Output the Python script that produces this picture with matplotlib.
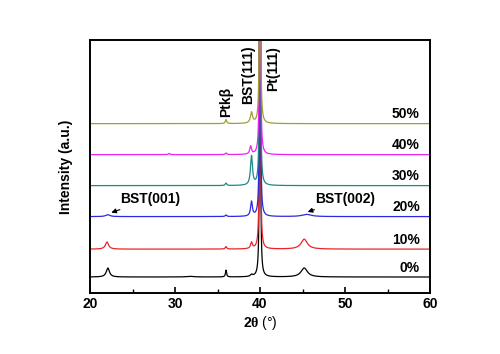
import matplotlib.pyplot as plt
import numpy as np

plt.rcParams['font.family'] = ['Liberation Sans', 'DejaVu Sans']
plt.rcParams['font.weight'] = 'bold'
plt.rcParams['mathtext.fontset'] = 'custom'
plt.rcParams['mathtext.rm'] = 'Liberation Serif'
plt.rcParams['mathtext.bf'] = 'Liberation Sans:bold'

# sample labels, colours and vertical offsets
samples = ['0%', '10%', '20%', '30%', '40%', '50%']
colors = ['black', '#e8262a', '#2a2ae0', '#1a8a86', '#ee22ee', '#a0a030']
offsets = [0, 0.9, 1.95, 2.95, 3.95, 4.95]

# peaks: position (2theta), height (a.u.), FWHM (deg)
pk_pos = {
    '0%':  [22.1, 31.8, 36.0, 39.0, 40.0, 45.2],
    '10%': [22.0, 36.0, 39.0, 40.0, 45.2],
    '20%': [22.1, 36.0, 39.0, 40.0, 45.5],
    '30%': [36.0, 39.0, 40.0],
    '40%': [29.3, 36.0, 38.9, 40.0],
    '50%': [36.0, 39.0, 40.0],
}
pk_h = {
    '0%':  [0.29, 0.02, 0.22, 0.06, 30.0, 0.29],
    '10%': [0.23, 0.08, 0.2, 30.0, 0.32],
    '20%': [0.06, 0.05, 0.47, 30.0, 0.07],
    '30%': [0.08, 0.94, 30.0],
    '40%': [0.04, 0.05, 0.26, 30.0],
    '50%': [0.13, 0.35, 30.0],
}
pk_w = {
    '0%':  [0.45, 1.0, 0.15, 0.3, 0.07, 0.9],
    '10%': [0.45, 0.2, 0.25, 0.07, 0.9],
    '20%': [0.6, 0.2, 0.25, 0.07, 1.3],
    '30%': [0.2, 0.28, 0.07],
    '40%': [0.2, 0.2, 0.25, 0.07],
    '50%': [0.2, 0.3, 0.07],
}

two_theta = np.linspace(20, 60, 8001)

fig = plt.figure(figsize=(5, 3.54), dpi=100)
ax = fig.add_axes([0.18, 0.172, 0.68, 0.715])

for name, col, off in zip(samples, colors, offsets):
    y = np.zeros_like(two_theta)
    for p, h, w in zip(pk_pos[name], pk_h[name], pk_w[name]):
        y += h * (w / 2) ** 2 / ((two_theta - p) ** 2 + (w / 2) ** 2)
    ax.plot(two_theta, y + off, color=col, lw=0.9)
    ax.text(58.8, off + 0.3, name, ha='right', va='center', fontsize=10, fontweight='bold')

# peak labels
ax.text(36.0, 5.15, 'Ptkβ', rotation=90, ha='center', va='bottom', fontsize=10, fontweight='bold')
ax.text(38.6, 5.6, 'BST(111)', rotation=90, ha='center', va='bottom', fontsize=10, fontweight='bold')
ax.text(41.5, 6.0, 'Pt(111)', rotation=90, ha='center', va='bottom', fontsize=10, fontweight='bold')

ax.annotate('BST(001)', xy=(22.2, 2.05), xytext=(23.6, 2.52), ha='left', va='center',
            fontsize=10, fontweight='bold',
            arrowprops=dict(arrowstyle='-|>', color='black', lw=0.8, mutation_scale=7))
ax.annotate('BST(002)', xy=(45.3, 2.07), xytext=(46.5, 2.52), ha='left', va='center',
            fontsize=10, fontweight='bold',
            arrowprops=dict(arrowstyle='-|>', color='black', lw=0.8, mutation_scale=7))

ax.set_xlim(20, 60)
ax.set_ylim(-0.52, 7.65)
ax.set_xticks([20, 30, 40, 50, 60])
ax.set_xticks([25, 35, 45, 55], minor=True)
ax.set_yticks([])
ax.tick_params(axis='x', direction='in', length=4, width=1.2, labelsize=10, pad=3)
ax.tick_params(axis='x', which='minor', direction='in', length=3, width=1.0)
for lab in ax.get_xticklabels():
    lab.set_fontweight('bold')
for s in ax.spines.values():
    s.set_linewidth(1.4)

ax.set_xlabel('$\\mathbf{2}\\mathrm{\\theta}$ (°)', fontsize=10, fontweight='normal', labelpad=2)
ax.set_ylabel('Intensity (a.u.)', fontsize=10, fontweight='bold', labelpad=12)

fig.savefig('out.png', dpi=100)
